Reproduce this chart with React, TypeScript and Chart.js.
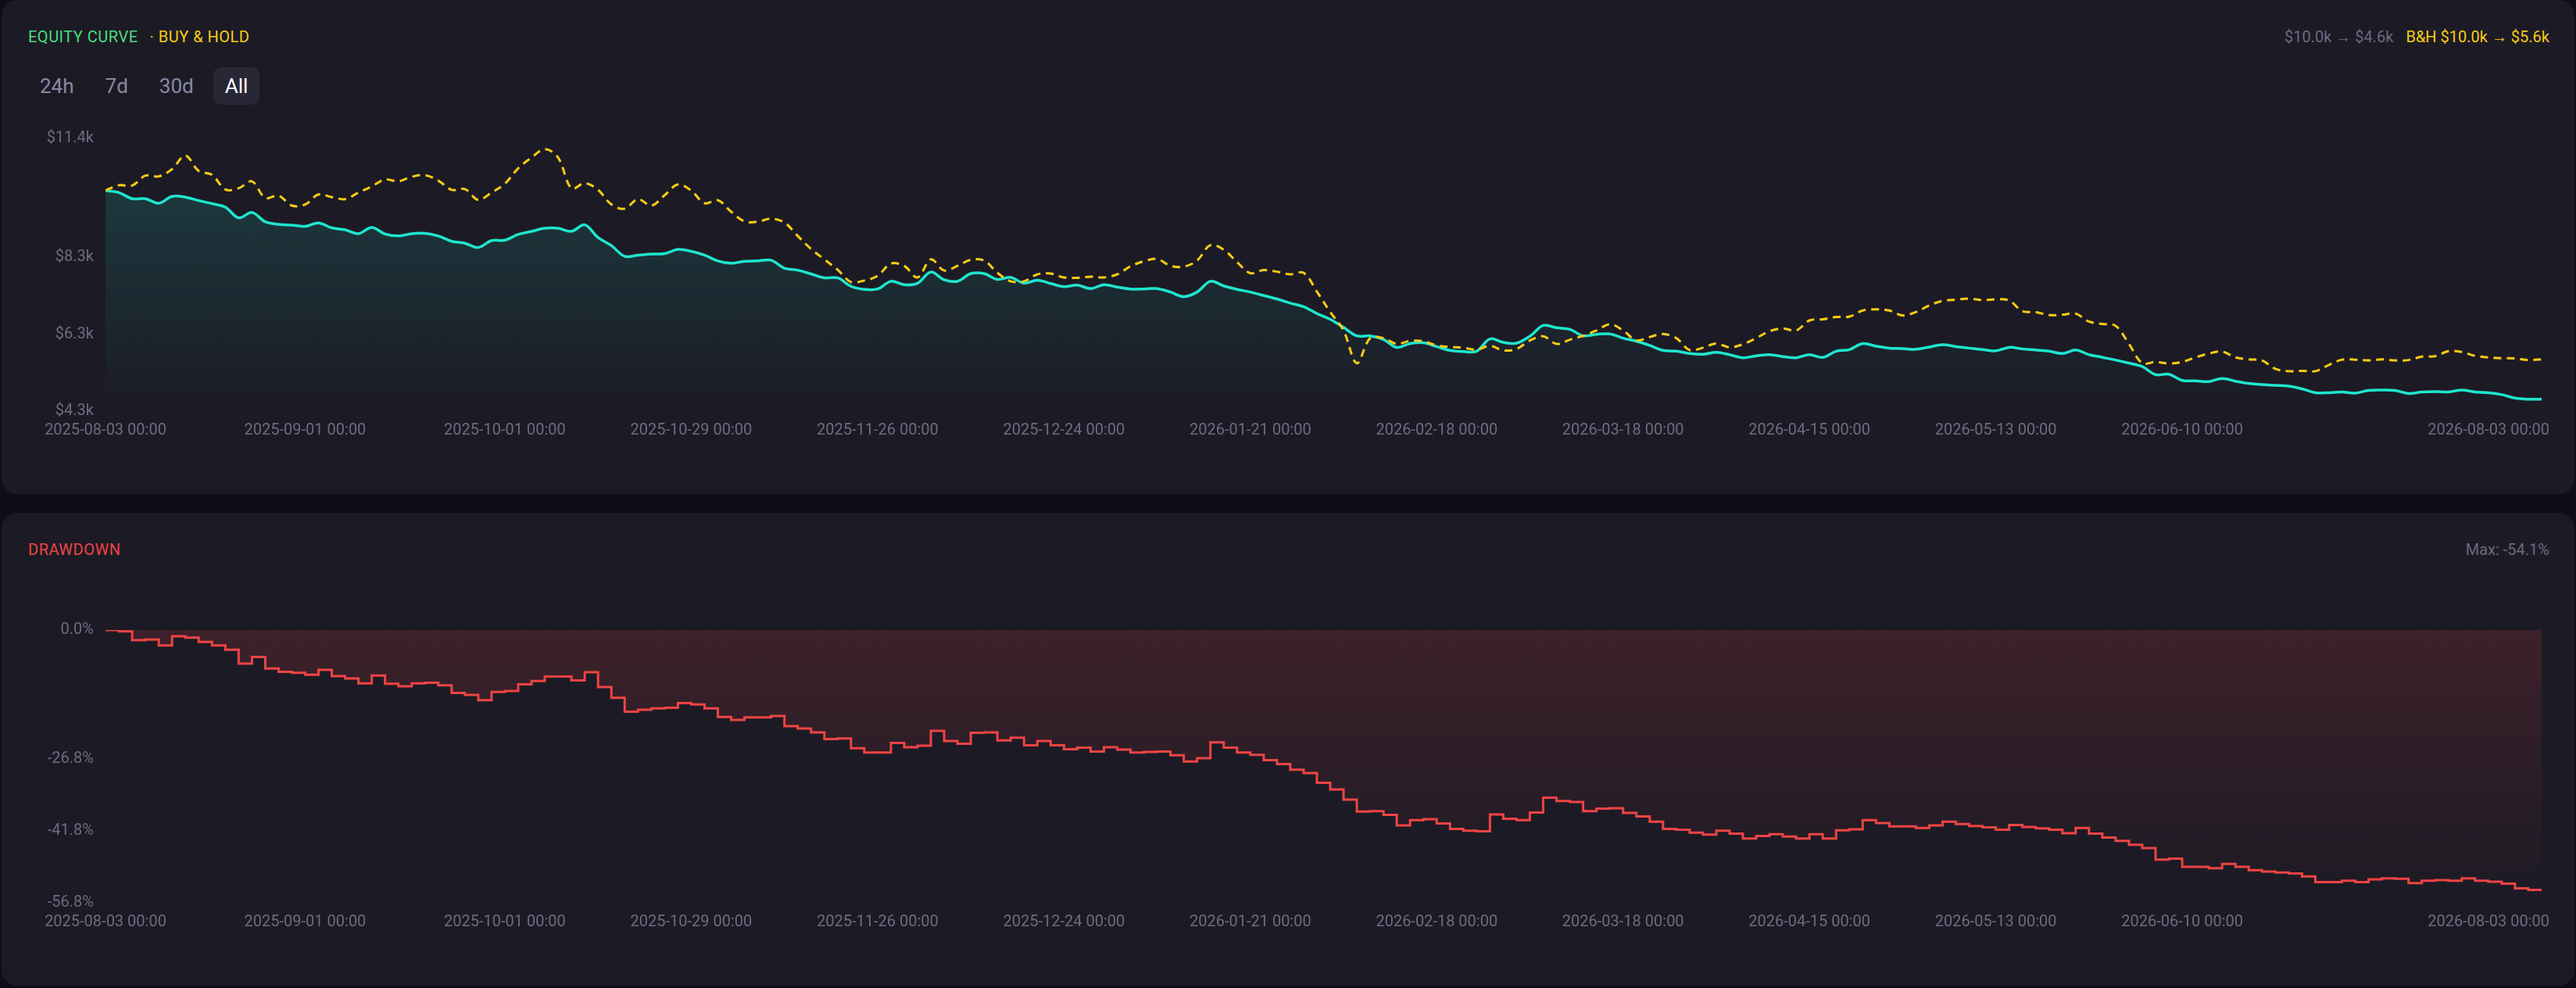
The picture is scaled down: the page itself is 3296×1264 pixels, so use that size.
import React, { useEffect, useRef } from 'react';
import { Chart, registerables } from 'chart.js';

Chart.register(...registerables);

const FONT = 'Roboto, "Liberation Sans", Arial, sans-serif';

// x axis: sample index (184 samples, ~2 days apart) and the labelled samples
const TICK_INDEX = [0, 15, 30, 44, 58, 72, 86, 100, 114, 128, 142, 156, 183];
const TICK_LABELS = [
  '2025-08-03 00:00', '2025-09-01 00:00', '2025-10-01 00:00', '2025-10-29 00:00',
  '2025-11-26 00:00', '2025-12-24 00:00', '2026-01-21 00:00', '2026-02-18 00:00',
  '2026-03-18 00:00', '2026-04-15 00:00', '2026-05-13 00:00', '2026-06-10 00:00',
  '2026-08-03 00:00',
];

// strategy equity, $k
const EQUITY = [
  10.04, 9.99, 9.83, 9.83, 9.71, 9.89, 9.87, 9.78, 9.70, 9.61,
  9.33, 9.47, 9.23, 9.16, 9.14, 9.11, 9.20, 9.07, 9.02, 8.92,
  9.08, 8.91, 8.86, 8.92, 8.93, 8.86, 8.72, 8.67, 8.56, 8.74,
  8.75, 8.90, 8.98, 9.06, 9.06, 8.98, 9.15, 8.82, 8.61, 8.33,
  8.36, 8.39, 8.40, 8.51, 8.46, 8.36, 8.21, 8.15, 8.20, 8.21,
  8.23, 8.02, 7.97, 7.87, 7.77, 7.77, 7.55, 7.47, 7.48, 7.68,
  7.59, 7.63, 7.92, 7.72, 7.68, 7.88, 7.88, 7.73, 7.78, 7.63,
  7.71, 7.62, 7.54, 7.58, 7.49, 7.59, 7.53, 7.48, 7.48, 7.49,
  7.40, 7.28, 7.40, 7.68, 7.56, 7.47, 7.40, 7.31, 7.22, 7.11,
  7.02, 6.84, 6.69, 6.48, 6.26, 6.26, 6.17, 5.96, 6.06, 6.08,
  5.98, 5.88, 5.85, 5.86, 6.18, 6.09, 6.07, 6.25, 6.53, 6.47,
  6.43, 6.26, 6.30, 6.31, 6.20, 6.12, 6.01, 5.88, 5.86, 5.80,
  5.78, 5.83, 5.77, 5.69, 5.74, 5.77, 5.72, 5.69, 5.77, 5.70,
  5.86, 5.90, 6.06, 5.99, 5.94, 5.93, 5.91, 5.97, 6.03, 5.98,
  5.94, 5.90, 5.87, 5.96, 5.92, 5.89, 5.86, 5.80, 5.89, 5.77,
  5.70, 5.63, 5.55, 5.46, 5.25, 5.26, 5.10, 5.09, 5.07, 5.15,
  5.08, 5.02, 4.99, 4.97, 4.95, 4.88, 4.78, 4.78, 4.80, 4.77,
  4.84, 4.85, 4.84, 4.76, 4.80, 4.81, 4.80, 4.85, 4.80, 4.78,
  4.73, 4.64, 4.61, 4.61,
];

// buy & hold equity, $k
const BUY_HOLD = [
  10.04, 10.18, 10.17, 10.43, 10.41, 10.60, 10.95, 10.55, 10.45, 10.07,
  10.10, 10.28, 9.85, 9.91, 9.65, 9.68, 9.94, 9.87, 9.82, 9.99,
  10.15, 10.33, 10.28, 10.40, 10.44, 10.30, 10.06, 10.08, 9.80, 9.99,
  10.22, 10.62, 10.90, 11.12, 10.90, 10.10, 10.23, 10.06, 9.68, 9.57,
  9.82, 9.65, 9.92, 10.20, 10.04, 9.71, 9.79, 9.49, 9.24, 9.23,
  9.31, 9.21, 8.86, 8.52, 8.25, 7.98, 7.66, 7.70, 7.82, 8.14,
  8.08, 7.78, 8.25, 7.96, 8.08, 8.24, 8.22, 7.90, 7.68, 7.68,
  7.86, 7.88, 7.78, 7.77, 7.80, 7.78, 7.86, 8.07, 8.20, 8.26,
  8.08, 8.06, 8.22, 8.62, 8.50, 8.18, 7.89, 7.97, 7.93, 7.86,
  7.90, 7.41, 6.88, 6.40, 5.55, 6.20, 6.20, 6.05, 6.13, 6.12,
  6.01, 5.97, 5.95, 5.90, 6.00, 5.88, 5.92, 6.14, 6.25, 6.05,
  6.16, 6.26, 6.40, 6.56, 6.40, 6.14, 6.23, 6.31, 6.20, 5.89,
  5.95, 6.06, 5.96, 6.04, 6.20, 6.38, 6.45, 6.40, 6.66, 6.69,
  6.75, 6.76, 6.92, 6.95, 6.92, 6.79, 6.88, 7.05, 7.17, 7.20,
  7.23, 7.19, 7.21, 7.18, 6.90, 6.88, 6.80, 6.81, 6.84, 6.63,
  6.57, 6.52, 6.05, 5.55, 5.58, 5.54, 5.58, 5.70, 5.80, 5.85,
  5.70, 5.65, 5.62, 5.40, 5.34, 5.35, 5.34, 5.50, 5.64, 5.64,
  5.62, 5.65, 5.62, 5.63, 5.72, 5.73, 5.86, 5.84, 5.74, 5.70,
  5.68, 5.67, 5.63, 5.65,
];

// drawdown, %
const DRAWDOWN = [
  0, -0.3, -2.1, -2.0, -3.2, -1.3, -1.6, -2.5, -3.2, -4.1,
  -7.0, -5.6, -8.0, -8.7, -8.9, -9.3, -8.3, -9.6, -10.1, -11.1,
  -9.5, -11.2, -11.7, -11.1, -11.0, -11.5, -13.1, -13.5, -14.6, -12.9,
  -12.7, -11.3, -10.6, -9.7, -9.7, -10.5, -8.8, -11.9, -14.1, -17.0,
  -16.6, -16.3, -16.2, -15.2, -15.5, -16.3, -18.1, -18.7, -18.2, -18.2,
  -17.9, -20.0, -20.5, -21.3, -22.7, -22.6, -24.6, -25.5, -25.5, -23.5,
  -24.4, -24.1, -21.0, -23.1, -23.7, -21.4, -21.3, -23.0, -22.4, -24.0,
  -23.1, -24.0, -24.8, -24.5, -25.3, -24.4, -24.9, -25.5, -25.4, -25.3,
  -26.1, -27.4, -26.7, -23.4, -24.5, -25.5, -26.0, -27.1, -27.9, -29.1,
  -29.8, -31.8, -33.2, -35.3, -37.8, -37.7, -38.5, -40.7, -39.6, -39.4,
  -40.3, -41.4, -41.8, -41.9, -38.4, -39.3, -39.6, -38.0, -34.9, -35.6,
  -35.8, -37.7, -37.2, -37.1, -38.1, -38.8, -39.9, -41.4, -41.6, -42.2,
  -42.6, -41.8, -42.4, -43.4, -42.9, -42.5, -43.0, -43.4, -42.5, -43.4,
  -41.7, -41.5, -39.6, -40.2, -40.9, -40.9, -41.2, -40.7, -39.9, -40.4,
  -40.8, -41.1, -41.6, -40.6, -41.0, -41.3, -41.6, -42.3, -41.2, -42.4,
  -43.2, -43.9, -44.7, -45.4, -47.8, -47.6, -49.3, -49.3, -49.6, -48.7,
  -49.3, -50.0, -50.3, -50.5, -50.7, -51.3, -52.5, -52.5, -52.2, -52.5,
  -51.9, -51.7, -51.8, -52.7, -52.2, -52.1, -52.2, -51.7, -52.2, -52.4,
  -52.8, -53.8, -54.1, -54.1,
];

const EQUITY_TICKS = [4.3, 6.3, 8.3, 11.4];
const EQUITY_RANGE = [4.3, 11.4];
const DRAWDOWN_TICKS = [-56.8, -41.8, -26.8, 0];
const DRAWDOWN_RANGE = [-56.8, 0];
const RANGES = ['24h', '7d', '30d', 'All'];

const PAGE_BG = '#0f0e17';
const CARD_BG = '#1c1b25';
const TICK_COLOR = '#6c6b82';
const MUTED = '#6b6a80';
const CYAN = '#1fe6cf';
const YELLOW = '#facc15';
const GREEN = '#4ade80';
const RED = '#ef4444';

const toPoints = (values: number[]) => values.map((y, x) => ({ x, y }));

const lastLabelInside = {
  id: 'lastLabelInside',
  beforeDraw(chart: any) {
    const scale = chart.scales.x;
    if (!scale) return;
    const items = scale.getLabelItems();
    const last = items[items.length - 1];
    if (last) {
      last.options.textAlign = 'right';
      last.options.translation = [chart.width, last.options.translation[1]];
    }
  },
};

function gradient(rgb: string, top: number, bottom: number) {
  return (ctx: any) => {
    const { chart } = ctx;
    const area = chart.chartArea;
    if (!area) return 'transparent';
    const g = chart.ctx.createLinearGradient(0, area.top, 0, area.bottom);
    g.addColorStop(0, `rgba(${rgb},${top})`);
    g.addColorStop(1, `rgba(${rgb},${bottom})`);
    return g;
  };
}

function xAxis() {
  return {
    type: 'linear',
    min: 0,
    max: EQUITY.length - 1,
    grid: { display: false, drawTicks: false },
    border: { display: false },
    ticks: {
      color: TICK_COLOR,
      font: { family: FONT, size: 20 },
      padding: 13,
      autoSkip: false,
      maxRotation: 0,
      minRotation: 0,
      callback: (v: number) => {
        const k = TICK_INDEX.indexOf(v);
        return k >= 0 ? TICK_LABELS[k] : '';
      },
    },
    afterBuildTicks: (s: any) => {
      s.ticks = TICK_INDEX.map((value) => ({ value }));
    },
    afterFit: (s: any) => {
      s.height = 50;
      s.paddingLeft = 0;
      s.paddingRight = 0;
    },
  };
}

function yAxis(range: number[], ticks: number[], fmt: (v: number) => string) {
  return {
    min: range[0],
    max: range[1],
    grid: { display: false, drawTicks: false },
    border: { display: false },
    ticks: {
      color: TICK_COLOR,
      font: { family: FONT, size: 20 },
      padding: 15,
      callback: (v: number) => fmt(Number(v)),
    },
    afterBuildTicks: (s: any) => {
      s.ticks = ticks.map((value) => ({ value }));
    },
    afterFit: (s: any) => {
      s.width = 99;
    },
  };
}

const baseOptions = {
  responsive: false,
  maintainAspectRatio: false,
  animation: false,
  layout: { padding: { top: 20, right: 10, bottom: 0, left: 0 } },
  plugins: { legend: { display: false }, tooltip: { enabled: false } },
  elements: { point: { radius: 0, hoverRadius: 0 } },
};

function EquityChart() {
  const ref = useRef<HTMLCanvasElement>(null);
  useEffect(() => {
    const chart = new Chart(ref.current as HTMLCanvasElement, {
      type: 'line',
      data: {
        datasets: [
          {
            label: 'Buy & Hold',
            data: toPoints(BUY_HOLD),
            borderColor: YELLOW,
            borderWidth: 3,
            borderDash: [10, 7],
            tension: 0.35,
            fill: false,
            pointRadius: 0,
          },
          {
            label: 'Equity',
            data: toPoints(EQUITY),
            borderColor: CYAN,
            borderWidth: 3.5,
            tension: 0.35,
            fill: 'start',
            backgroundColor: gradient('31,230,207', 0.18, 0),
            pointRadius: 0,
          },
        ],
      },
      options: {
        ...baseOptions,
        scales: {
          x: xAxis(),
          y: yAxis(EQUITY_RANGE, EQUITY_TICKS, (v) => `$${v.toFixed(1)}k`),
        },
      } as any,
      plugins: [lastLabelInside],
    });
    return () => chart.destroy();
  }, []);
  return (
    <canvas
      ref={ref}
      width={3226}
      height={426}
      style={{ position: 'absolute', left: 34, top: 150, width: 3226, height: 426 }}
    />
  );
}

function DrawdownChart() {
  const ref = useRef<HTMLCanvasElement>(null);
  useEffect(() => {
    const chart = new Chart(ref.current as HTMLCanvasElement, {
      type: 'line',
      data: {
        datasets: [
          {
            label: 'Drawdown',
            data: toPoints(DRAWDOWN),
            borderColor: RED,
            borderWidth: 3,
            stepped: true,
            fill: 'origin',
            backgroundColor: gradient('239,68,68', 0.16, 0.0),
            pointRadius: 0,
          },
        ],
      },
      options: {
        ...baseOptions,
        scales: {
          x: xAxis(),
          y: yAxis(DRAWDOWN_RANGE, DRAWDOWN_TICKS, (v) => `${v.toFixed(1)}%`),
        },
      } as any,
      plugins: [lastLabelInside],
    });
    return () => chart.destroy();
  }, []);
  return (
    <canvas
      ref={ref}
      width={3226}
      height={426}
      style={{ position: 'absolute', left: 34, top: 123, width: 3226, height: 426 }}
    />
  );
}

const label = (size: number): React.CSSProperties => ({
  position: 'absolute',
  fontFamily: FONT,
  fontSize: size,
  lineHeight: `${size}px`,
  whiteSpace: 'nowrap',
});

export default function App() {
  return (
    <div
      style={{
        position: 'fixed',
        left: 0,
        top: 0,
        width: 3296,
        height: 1264,
        background: PAGE_BG,
        overflow: 'hidden',
      }}
    >
      {/* Equity card */}
      <div
        style={{
          position: 'absolute',
          left: 2,
          top: 0,
          width: 3292,
          height: 632,
          background: CARD_BG,
          borderRadius: 20,
        }}
      >
        <div style={{ ...label(20), left: 34, top: 37, letterSpacing: 0.5 }}>
          <span style={{ color: GREEN }}>EQUITY CURVE</span>
          <span style={{ color: YELLOW, marginLeft: 15 }}>· BUY &amp; HOLD</span>
        </div>
        <div style={{ ...label(20), right: 32, top: 37 }}>
          <span style={{ color: MUTED }}>$10.0k → $4.6k</span>
          <span style={{ color: YELLOW, marginLeft: 16 }}>B&amp;H $10.0k → $5.6k</span>
        </div>
        <div style={{ position: 'absolute', left: 34, top: 86, display: 'flex', gap: 10 }}>
          {RANGES.map((r) => (
            <div
              key={r}
              style={{
                fontFamily: FONT,
                fontSize: 26,
                height: 48,
                lineHeight: '48px',
                padding: '0 15px',
                borderRadius: 10,
                color: r === 'All' ? '#ffffff' : '#8a89a3',
                background: r === 'All' ? '#282735' : 'transparent',
              }}
            >
              {r}
            </div>
          ))}
        </div>
        <EquityChart />
      </div>

      {/* Drawdown card */}
      <div
        style={{
          position: 'absolute',
          left: 2,
          top: 656,
          width: 3292,
          height: 605,
          background: CARD_BG,
          borderRadius: 20,
        }}
      >
        <div style={{ ...label(20), left: 34, top: 37, color: RED, letterSpacing: 0.5 }}>DRAWDOWN</div>
        <div style={{ ...label(20), right: 32, top: 37, color: MUTED }}>Max: -54.1%</div>
        <DrawdownChart />
      </div>
    </div>
  );
}
